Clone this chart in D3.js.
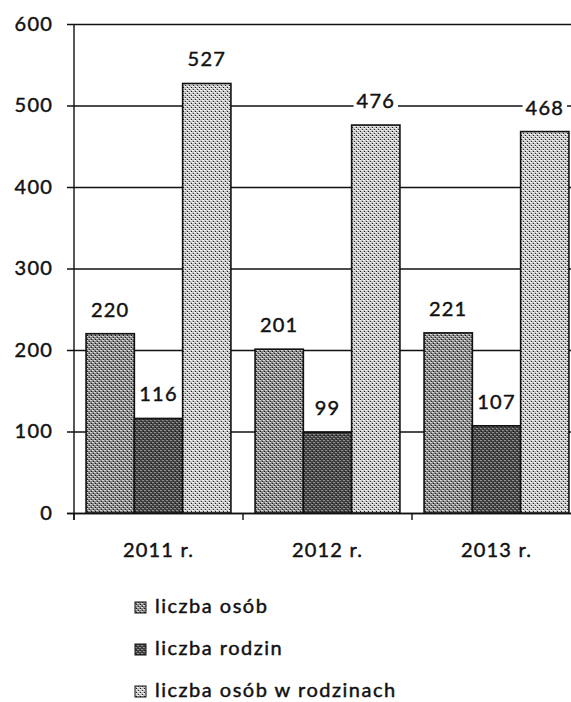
<!DOCTYPE html>
<html>
<head>
<meta charset="utf-8">
<script src="https://cdnjs.cloudflare.com/ajax/libs/d3/7.8.5/d3.min.js"></script>
<style>
  body { margin: 0; background: #fff; }
  text { font-family: Lato, "Open Sans", sans-serif; fill: #111; stroke: #111; stroke-width: 0.45px; }
</style>
</head>
<body>
<svg id="svg" width="571" height="702"></svg>
<script>
// dane z wykresu
var years = ['2011 r.', '2012 r.', '2013 r.']
var seriesNames = ['liczba osób', 'liczba rodzin', 'liczba osób w rodzinach']
var osoby = [220, 201, 221]
var rodziny = [116, 99, 107]
var osobyWRodzinach = [527, 476, 468]
var yTicks = [0, 100, 200, 300, 400, 500, 600]

var values = [osoby, rodziny, osobyWRodzinach]
var fills = ['#858585', '#454545', '#c2c2c2']
var dots = ['#d5d5d5', '#8f8f8f', '#f4f4f4']

var svg = d3.select('#svg')

// wzory "rastra" zamiast płaskiego koloru
var defs = svg.append('defs')
fills.forEach(function(c, i) {
    var p = defs.append('pattern')
        .attr('id', 'pat' + i)
        .attr('width', 4).attr('height', 4)
        .attr('patternUnits', 'userSpaceOnUse')
    p.append('rect').attr('width', 4).attr('height', 4).attr('fill', c)
    p.append('rect').attr('x', 0).attr('y', 0).attr('width', 2).attr('height', 1).attr('fill', dots[i])
    p.append('rect').attr('x', 2).attr('y', 2).attr('width', 2).attr('height', 1).attr('fill', dots[i])
    p.append('rect').attr('x', 1).attr('y', 3).attr('width', 1).attr('height', 1).attr('fill', '#1a1a1a')
    p.append('rect').attr('x', 3).attr('y', 1).attr('width', 1).attr('height', 1).attr('fill', '#2a2a2a')
})

var plotLeft = 74, plotRight = 581, plotTop = 24, plotBottom = 513

var y = d3.scaleLinear().domain([0, 600]).range([plotBottom, plotTop])
var x0 = d3.scaleBand().domain(years).range([plotLeft, plotRight])
var x1 = d3.scaleBand().domain(d3.range(3)).range([0, x0.bandwidth()]).paddingOuter(0.25)

// siatka
svg.append('g')
    .selectAll('line')
    .data(yTicks)
    .enter().append('line')
    .attr('x1', plotLeft - 7).attr('x2', 571)
    .attr('y1', function(d) { return y(d) + 0.5 })
    .attr('y2', function(d) { return y(d) + 0.5 })
    .attr('stroke', '#111').attr('stroke-width', 1.4)

// oś Y
var yAxis = svg.append('g')
    .attr('transform', 'translate(' + plotLeft + ',0)')
    .call(d3.axisLeft(y).tickValues(yTicks).tickSize(7).tickPadding(14))
yAxis.select('.domain').attr('stroke', '#111').attr('stroke-width', 1.4)
    .attr('d', 'M0,' + plotTop + 'V' + (plotBottom + 7))
yAxis.selectAll('line').remove()
yAxis.selectAll('text')
    .style('font-family', 'Lato, sans-serif')
    .style('font-size', '20px')
    .style('letter-spacing', '1.2px')
    .attr('fill', '#111')

// słupki
var groups = svg.append('g')
    .selectAll('g')
    .data(years)
    .enter().append('g')
    .attr('transform', function(d) { return 'translate(' + x0(d) + ',0)' })

groups.each(function(yr, yi) {
    var g = d3.select(this)
    d3.range(3).forEach(function(si) {
        var v = values[si][yi]
        g.append('rect')
            .attr('x', x1(si))
            .attr('y', y(v))
            .attr('width', x1.bandwidth())
            .attr('height', plotBottom - y(v))
            .attr('fill', 'url(#pat' + si + ')')
            .attr('stroke', '#111')
            .attr('stroke-width', 1.6)
    })
})

// etykiety wartości z białym tłem
groups.each(function(yr, yi) {
    var g = d3.select(this)
    d3.range(3).forEach(function(si) {
        var v = values[si][yi]
        var cx = x1(si) + x1.bandwidth() / 2
        var t = g.append('text')
            .attr('x', cx)
            .attr('y', y(v) - 17)
            .attr('text-anchor', 'middle')
            .attr('font-size', '20px')
            .style('letter-spacing', '1.2px')
            .text(v)
        var b = t.node().getBBox()
        g.insert('rect', function() { return t.node() })
            .attr('x', b.x - 3).attr('y', b.y)
            .attr('width', b.width + 6).attr('height', b.height)
            .attr('fill', '#fff')
            .style('stroke', 'none')
    })
})

// oś X
svg.append('line')
    .attr('x1', plotLeft - 7).attr('x2', 571)
    .attr('y1', plotBottom + 0.5).attr('y2', plotBottom + 0.5)
    .attr('stroke', '#111').attr('stroke-width', 1.4)

svg.append('g')
    .selectAll('line')
    .data(years)
    .enter().append('line')
    .attr('x1', function(d) { return x0(d) })
    .attr('x2', function(d) { return x0(d) })
    .attr('y1', plotBottom).attr('y2', plotBottom + 7)
    .attr('stroke', '#111').attr('stroke-width', 1.4)

svg.append('g')
    .selectAll('text')
    .data(years)
    .enter().append('text')
    .attr('x', function(d) { return x0(d) + x0.bandwidth() / 2 })
    .attr('y', 557)
    .attr('text-anchor', 'middle')
    .attr('font-size', '20px')
    .style('letter-spacing', '1.2px')
    .text(function(d) { return d })

// legenda
var legend = svg.append('g')
    .selectAll('g')
    .data(seriesNames)
    .enter().append('g')
    .attr('transform', function(d, i) { return 'translate(135,' + (613 + i * 42) + ')' })

legend.append('rect')
    .attr('x', 0).attr('y', -11)
    .attr('width', 11).attr('height', 11)
    .attr('fill', function(d, i) { return 'url(#pat' + i + ')' })
    .attr('stroke', '#111')

legend.append('text')
    .attr('x', 20).attr('y', 0)
    .attr('font-size', '20px')
    .style('letter-spacing', '1.5px')
    .text(function(d) { return d })
</script>
</body>
</html>
